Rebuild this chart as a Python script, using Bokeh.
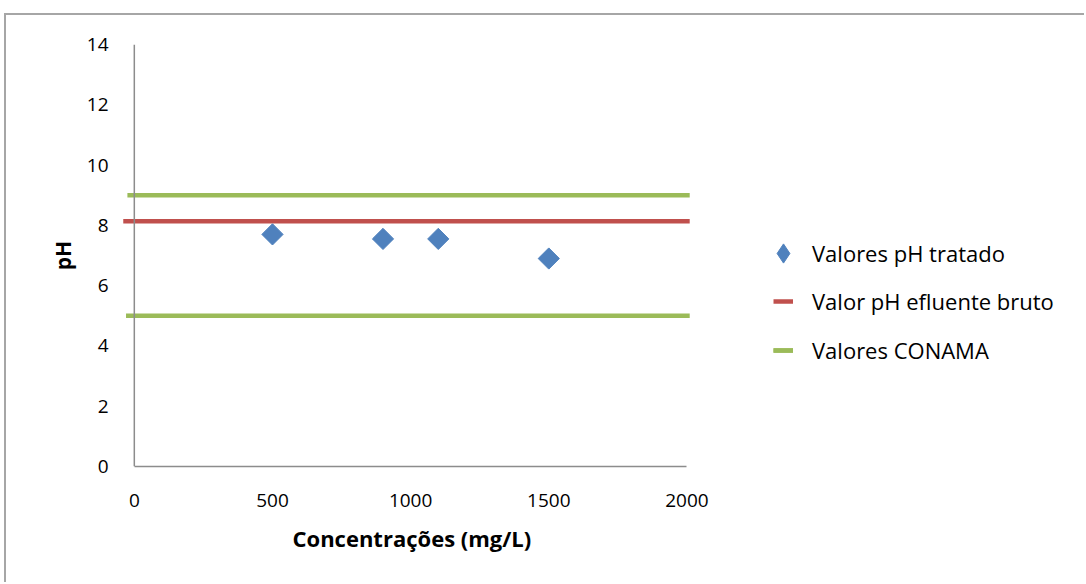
import math

from bokeh.plotting import figure
from bokeh.models import Range1d, FixedTicker, Legend, LegendItem, Span, Title
from bokeh.embed import file_html
from bokeh.resources import INLINE

# pH of the treated effluent at each coagulant concentration
conc = [500, 900, 1100, 1500]
ph_tratado = [7.7, 7.55, 7.55, 6.9]

# raw effluent pH (reference line)
bruto_x = [-40, 2010]
bruto_ph = [8.14, 8.14]

# CONAMA discharge limits (upper and lower)
conama_sup_x = [-25, 2010]
conama_sup_ph = [9, 9]
conama_inf_x = [-30, 2010]
conama_inf_ph = [5, 5]

x_ticks = [0, 500, 1000, 1500, 2000]
y_ticks = [0, 2, 4, 6, 8, 10, 12, 14]

BLUE = "#4F81BD"
RED = "#C0504D"
GREEN = "#9BBB59"
AXIS_GRAY = "#8c8c8c"
FONT = "Open Sans"

# the plotting frame runs to the right edge so the legend sits inside it;
# the x axis itself is bounded to 0..2000
p = figure(
    width=1080, height=569,
    output_backend="svg", toolbar_location=None,
    x_range=Range1d(-50, 3446), y_range=Range1d(0, 14),
    min_border_left=114, min_border_right=0,
    min_border_top=29, min_border_bottom=118,
)
p.margin = (13, 0, 0, 4)
p.styles = {"border-top": "2px solid #a6a6a6", "border-left": "2px solid #a6a6a6"}

p.xgrid.visible = False
p.ygrid.visible = False
p.outline_line_color = None
p.background_fill_color = "white"
p.border_fill_color = "white"

# axes
p.xaxis.ticker = FixedTicker(ticks=x_ticks)
p.xaxis.bounds = (0, 2000)
p.yaxis.ticker = FixedTicker(ticks=y_ticks)
p.yaxis.axis_line_color = None

for ax in (p.xaxis, p.yaxis):
    ax.major_tick_out = 0
    ax.major_tick_in = 0
    ax.minor_tick_out = 0
    ax.minor_tick_in = 0
    ax.major_label_text_font = FONT
    ax.major_label_text_font_size = "19px"
    ax.major_label_text_color = "black"
    ax.axis_label_text_font = FONT
    ax.axis_label_text_font_size = "21px"
    ax.axis_label_text_font_style = "bold"
    ax.axis_label_text_color = "black"

p.xaxis.axis_line_color = AXIS_GRAY
p.xaxis.axis_line_width = 1.5
p.xaxis.major_label_standoff = 27
p.yaxis.axis_label = "pH"
p.yaxis.major_label_standoff = 12
p.yaxis.axis_label_standoff = 7

# x axis title, centred under the 0..2000 span of the axis
p.add_layout(Title(
    text="Concentrações (mg/L)", align="left", offset=172, standoff=22,
    text_font=FONT, text_font_size="22px", text_font_style="bold",
    text_color="black",
), "below")

# vertical axis line at x = 0
p.add_layout(Span(location=0, dimension="height", line_color=AXIS_GRAY, line_width=1.5))

# data
r_bruto = p.line(bruto_x, bruto_ph, line_width=4.5, line_color=RED)
r_sup = p.line(conama_sup_x, conama_sup_ph, line_width=4.5, line_color=GREEN)
r_inf = p.line(conama_inf_x, conama_inf_ph, line_width=4.5, line_color=GREEN)
r_pts = p.scatter(conc, ph_tratado, marker="square", angle=math.pi / 4,
                  size=15, fill_color=BLUE, line_color=BLUE)
# legend swatch for the treated-pH series (legend markers are drawn unrotated,
# so a diamond marker stands in for the rotated squares); hidden in the plot
r_pts_key = p.scatter(conc, ph_tratado, marker="diamond",
                      fill_color=BLUE, line_color=BLUE, visible=False)

legend_style = dict(
    padding=0, margin=0, border_line_color=None, background_fill_alpha=0,
    inactive_fill_alpha=0,
    label_text_font=FONT, label_text_font_size="22px", label_text_color="black",
)

leg_pts = Legend(
    items=[LegendItem(label="Valores pH tratado", renderers=[r_pts_key])],
    location=(639, 189), glyph_width=48, glyph_height=48,
    label_height=48, label_standoff=5, **legend_style,
)
leg_lines = Legend(
    items=[
        LegendItem(label="Valor pH efluente bruto", renderers=[r_bruto]),
        LegendItem(label="Valores CONAMA", renderers=[r_sup, r_inf]),
    ],
    location=(653, 101), glyph_width=20, glyph_height=20,
    label_height=20, spacing=19, label_standoff=19, **legend_style,
)
p.add_layout(leg_pts)
p.add_layout(leg_lines)

open("out.html", "w").write(file_html(p, INLINE))
